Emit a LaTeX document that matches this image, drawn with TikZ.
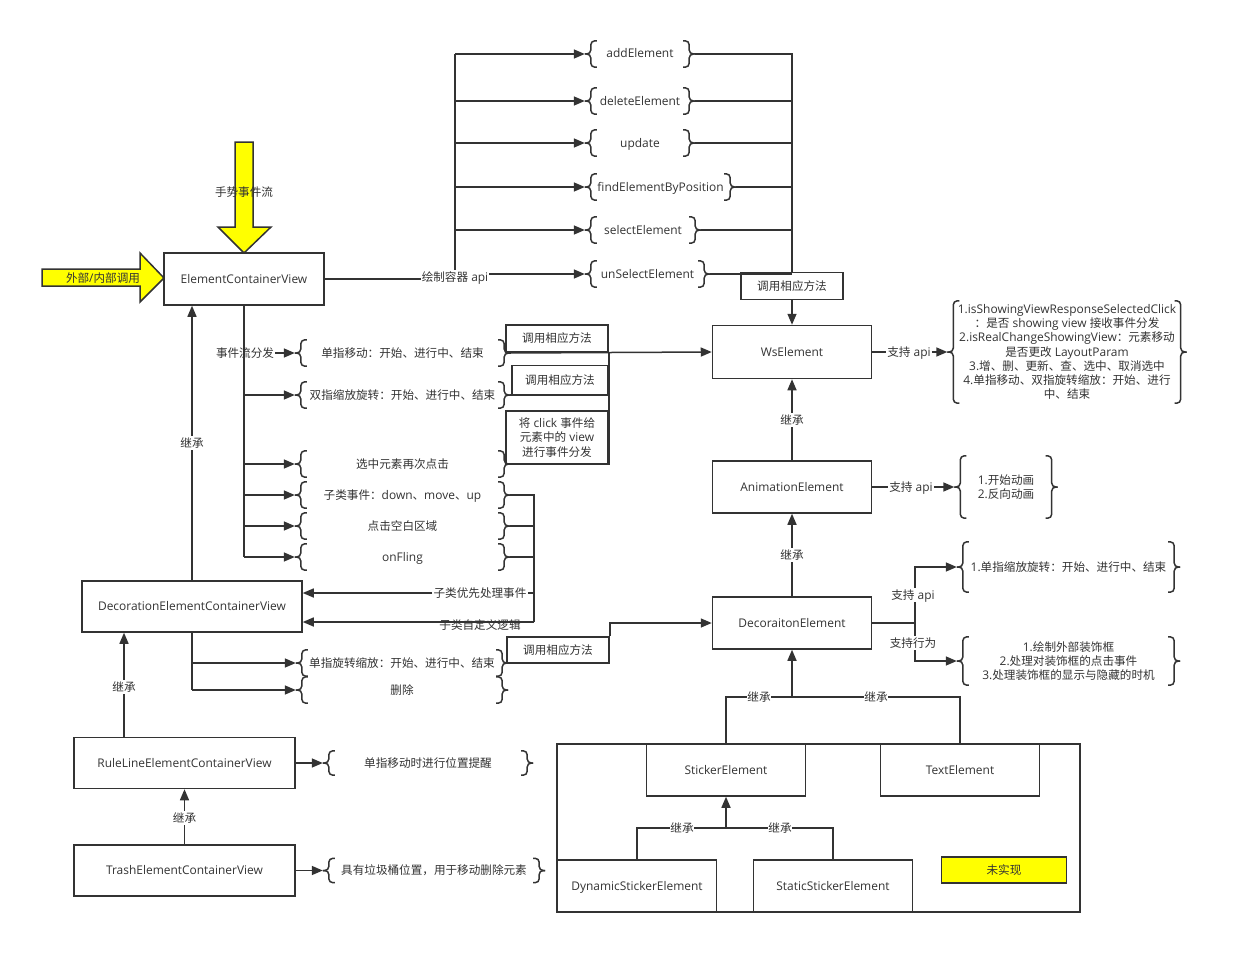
\documentclass[tikz,border=0pt]{standalone}
\usepackage{fontspec}
\setmainfont{Open Sans}[Scale=1.03]
\newfontfamily\cjkfont{Noto Sans CJK SC}
\usetikzlibrary{arrows.meta,calc}
\XeTeXinterchartokenstate=1
\chardef\cjkclass=10
\newcount\cjkc
\cjkc="3000 \loop\ifnum\cjkc<"3040 \XeTeXcharclass\cjkc=\cjkclass \advance\cjkc by 1 \repeat
\cjkc="4E00 \loop\ifnum\cjkc<"A000 \XeTeXcharclass\cjkc=\cjkclass \advance\cjkc by 1 \repeat
\cjkc="FF00 \loop\ifnum\cjkc<"FFF0 \XeTeXcharclass\cjkc=\cjkclass \advance\cjkc by 1 \repeat
\XeTeXinterchartoks 0 \cjkclass = {\cjkfont}
\XeTeXinterchartoks 4095 \cjkclass = {\cjkfont}
\XeTeXinterchartoks \cjkclass 0 = {\rmfamily}
\XeTeXinterchartoks \cjkclass 4095 = {\rmfamily}
\definecolor{lc}{HTML}{333333}
\definecolor{yel}{HTML}{FFFF00}
\newcommand\fsz{\fontsize{11.6pt}{14.3pt}\selectfont}
\tikzset{
  ln/.style={draw=lc, line width=1.5pt},
  arr/.style={ln, -{Triangle[length=11pt,width=9pt]}},
  box/.style={draw=lc, line width=1.5pt, fill=white, text=lc, font=\fsz, inner sep=2pt, align=center, text height=10pt, text depth=2pt},
  lbl/.style={fill=white, text=lc, font=\fsz, inner sep=1pt, text height=10pt, text depth=2pt},
  lblnf/.style={text=lc, font=\fsz, inner sep=1pt, text height=10pt, text depth=2pt},
  bitem/.style={text=lc, font=\fsz, align=center, inner sep=0pt},
  bone/.style={bitem, text height=10pt, text depth=2pt},
  brc/.style={draw=lc, line width=1.5pt, rounded corners=4pt},
  yarrow/.style={draw=lc, line width=1.5pt, fill=yel},
}
\newcommand\bp[1]{%
  \draw[brc] ($(#1.north west)+(12,0)$) -- ($(#1.north west)+(6,0)$) -- ($(#1.west)+(6,0)$) -- (#1.west);
  \draw[brc] ($(#1.south west)+(12,0)$) -- ($(#1.south west)+(6,0)$) -- ($(#1.west)+(6,0)$) -- (#1.west);
  \draw[brc] ($(#1.north east)+(-12,0)$) -- ($(#1.north east)+(-6,0)$) -- ($(#1.east)+(-6,0)$) -- (#1.east);
  \draw[brc] ($(#1.south east)+(-12,0)$) -- ($(#1.south east)+(-6,0)$) -- ($(#1.east)+(-6,0)$) -- (#1.east);}
\begin{document}
\begin{tikzpicture}[x=1pt,y=-1pt]
\useasboundingbox[fill=white] (0,0) rectangle (1240,966);

% yellow arrows
\draw[yarrow] (235,142) -- (253,142) -- (253,227) -- (271,227) -- (244,253) -- (218,227) -- (235,227) -- cycle;
\draw[yarrow] (42,269) -- (140,269) -- (140,253) -- (164,278) -- (140,302) -- (140,286) -- (42,286) -- cycle;
\node[lblnf] (gest) at (244,192) {手势事件流};
\node[lblnf] (ext) at (103,278) {外部/内部调用};

% main boxes
\node[box, minimum width=160pt, minimum height=52pt] (ecv) at (244,279) {ElementContainerView};
\node[box, minimum width=220pt, minimum height=51pt] (decv) at (192,606.5) {DecorationElementContainerView};
\node[box, minimum width=221pt, minimum height=51pt] (rl) at (184.5,763) {RuleLineElementContainerView};
\node[box, minimum width=221pt, minimum height=51pt] (tr) at (184.5,870.5) {TrashElementContainerView};
\node[box, minimum width=159pt, minimum height=53pt] (ws) at (792,352) {WsElement};
\node[box, minimum width=159pt, minimum height=52pt] (anim) at (792,487) {AnimationElement};
\node[box, minimum width=159pt, minimum height=52pt] (dec) at (792,623) {DecoraitonElement};
\node[box, minimum width=102pt, minimum height=27pt] (c0) at (792,286) {调用相应方法};
\node[box, minimum width=102pt, minimum height=27pt] (c1) at (557,338.5) {调用相应方法};
\node[box, minimum width=96pt, minimum height=29pt] (c2) at (560,380) {调用相应方法};
\node[box, text height=, text depth=, minimum width=102pt, minimum height=53pt] (c3) at (557,437.5) {将 click 事件给\\元素中的 view\\进行事件分发};
\node[box, minimum width=102pt, minimum height=26pt] (c4) at (558,650) {调用相应方法};

% bottom group
\node[box, minimum width=523pt, minimum height=168pt] (grp) at (818.5,828) {};
\node[box, minimum width=159pt, minimum height=52pt] (stk) at (726,770) {StickerElement};
\node[box, minimum width=159pt, minimum height=52pt] (txt) at (960,770) {TextElement};
\node[box, minimum width=159pt, minimum height=52pt] (dyn) at (637,886) {DynamicStickerElement};
\node[box, minimum width=159pt, minimum height=52pt] (sta) at (833,886) {StaticStickerElement};
\node[box, fill=yel, minimum width=125pt, minimum height=26pt] (nimp) at (1004,870) {未实现};

% brace items: top
\node[bone, minimum width=110pt, minimum height=26pt] (add) at (640,54) {addElement};
\node[bone, minimum width=110pt, minimum height=26pt] (del) at (640,101) {deleteElement};
\node[bone, minimum width=110pt, minimum height=26pt] (upd) at (640,143) {update};
\node[bone, minimum width=151pt, minimum height=26pt] (fnd) at (660.5,187) {findElementByPosition};
\node[bone, minimum width=116pt, minimum height=26pt] (sel) at (643,230) {selectElement};
\node[bone, minimum width=125pt, minimum height=26pt] (uns) at (647.5,274) {unSelectElement};
\foreach \n in {add,del,upd,fnd,sel,uns} {\bp{\n}}

% brace items: left
\node[bone, minimum width=215pt, minimum height=26pt] (i1) at (402.5,353) {单指移动：开始、进行中、结束};
\node[bone, minimum width=215pt, minimum height=26pt] (i2) at (402.5,395) {双指缩放旋转：开始、进行中、结束};
\node[bone, minimum width=215pt, minimum height=26pt] (i3) at (402.5,464) {选中元素再次点击};
\node[bone, minimum width=215pt, minimum height=26pt] (i4) at (402.5,495) {子类事件：down、move、up};
\node[bone, minimum width=215pt, minimum height=26pt] (i5) at (402.5,526) {点击空白区域};
\node[bone, minimum width=215pt, minimum height=26pt] (i6) at (402.5,557) {onFling};
\node[bone, minimum width=212pt, minimum height=26pt] (i7) at (402,663) {单指旋转缩放：开始、进行中、结束};
\node[bone, minimum width=212pt, minimum height=26pt] (i8) at (402,690) {删除};
\node[bone, minimum width=210pt, minimum height=24pt] (i9) at (428,763) {单指移动时进行位置提醒};
\node[bone, minimum width=222pt, minimum height=24pt] (i10) at (434,870.5) {具有垃圾桶位置，用于移动删除元素};
\foreach \n in {i1,i2,i3,i4,i5,i6,i7,i8,i9,i10} {\bp{\n}}

% brace items: right
\node[bitem, minimum width=239pt, minimum height=102pt] (bigb) at (1067,352) {1.isShowingViewResponseSelectedClick\\：是否 showing view 接收事件分发\\2.isRealChangeShowingView：元素移动\\是否更改 LayoutParam\\3.增、删、更新、查、选中、取消选中\\4.单指移动、双指旋转缩放：开始、进行\\中、结束};
\node[bitem, minimum width=103pt, minimum height=62pt] (ab) at (1006,487) {1.开始动画\\2.反向动画};
\node[bone, minimum width=223pt, minimum height=50pt] (db1) at (1068.5,567) {1.单指缩放旋转：开始、进行中、结束};
\node[bitem, minimum width=223pt, minimum height=48pt] (db2) at (1068.5,661) {1.绘制外部装饰框\\2.处理对装饰框的点击事件\\3.处理装饰框的显示与隐藏的时机};
\foreach \n in {bigb,ab,db1,db2} {\bp{\n}}

% top fan
\node[lblnf] (apilbl) at (455,277) {绘制容器 api};
\draw[ln] (ecv.east) -- (ecv.east -| apilbl.west);
\draw[ln] (apilbl.north) -- (apilbl.north |- add.west);
\foreach \n in {add,del,upd,fnd,sel} {\draw[arr] (apilbl.north |- \n.west) -- (\n.west);}
\draw[arr] (apilbl.east |- uns.west) -- (uns.west);
\draw[ln] (add.east) -- (add.east -| c0.north) -- (c0.north);
\foreach \n in {del,upd,fnd,sel,uns} {\draw[ln] (\n.east) -- (\n.east -| c0.north);}
\draw[arr] (c0.south) -- (ws.north);

% event flow
\draw[ln] (ecv.south) -- (ecv.south |- i6.west);
\node[lblnf] (flow) at (245,353) {事件流分发};
\draw[arr] (flow.east) -- (i1.west);
\foreach \n in {i2,i3,i4,i5,i6} {\draw[arr] (ecv.south |- \n.west) -- (\n.west);}
\draw[arr] (i1.east) -- (ws.west);
\draw[ln] (i2.east) -- (i2.east -| c1.south east) -- (c1.south east);
\draw[ln] (i3.east) -- (i3.east -| c1.south east) -- (c1.south east);
\coordinate (vb) at (534,622);
\draw[ln] (i4.east) -- (i4.east -| vb) -- (vb);
\draw[ln] (i5.east) -- (i5.east -| vb);
\draw[ln] (i6.east) -- (i6.east -| vb);
\node[lblnf] (sub1) at (480,593) {子类优先处理事件};
\draw[ln] (vb |- sub1.east) -- (sub1.east);
\draw[arr] (sub1.west) -- (sub1.west -| decv.east);
\draw[arr] (vb) -- (vb -| decv.east);
\node[lblnf] (sub2) at (480,625) {子类自定义逻辑};

% decoration container
\draw[arr] (decv.north) -- (decv.north |- ecv.south);
\node[lbl] (inh1) at (192,443) {继承};
\draw[ln] (decv.south) -- (decv.south |- i8.west);
\draw[arr] (decv.south |- i7.west) -- (i7.west);
\draw[arr] (decv.south |- i8.west) -- (i8.west);
\draw[ln] (i7.east) -- (i7.east -| c4.west);
\draw[arr] (c4.north east) -- (c4.north east |- dec.west) -- (dec.west);

% ruleline / trash
\coordinate (rlx) at ($(rl.north)+(-60.5,0)$);
\draw[arr] (rlx) -- (rlx |- decv.south);
\node[lbl] (inh2) at (124,687) {继承};
\draw[arr] (tr.north) -- (rl.south);
\node[lbl] (inh3) at (184.5,818) {继承};
\draw[arr] (rl.east) -- (i9.west);
\draw[arr] (tr.east) -- (i10.west);

% right side
\node[lblnf] (wsapi) at (909,352) {支持 api};
\draw[ln] (ws.east) -- (wsapi.west);
\draw[arr] (wsapi.east) -- (bigb.west);
\draw[arr] (anim.north) -- (ws.south);
\node[lbl] (inh4) at (792,420) {继承};
\node[lblnf] (animapi) at (911,487) {支持 api};
\draw[ln] (anim.east) -- (animapi.west);
\draw[arr] (animapi.east) -- (ab.west);
\draw[arr] (dec.north) -- (anim.south);
\node[lbl] (inh5) at (792,555) {继承};
\coordinate (dv) at (915,623);
\draw[ln] (dec.east) -- (dv);
\draw[arr] (dv) -- (dv |- db1.west) -- (db1.west);
\draw[arr] (dv) -- (dv |- db2.west) -- (db2.west);
\node[lbl] (s1) at (913,595) {支持 api};
\node[lbl] (s2) at (913,643) {支持行为};

% bottom inheritance
\coordinate (h1) at (792,697);
\draw[ln] (stk.north) -- (stk.north |- h1) -- (txt.north |- h1) -- (txt.north);
\draw[arr] (h1) -- (dec.south);
\node[lbl, inner sep=0pt] (inh6) at (759,697) {继承};
\node[lbl, inner sep=0pt] (inh7) at (876,697) {继承};
\coordinate (h2) at (726,828);
\draw[ln] (dyn.north) -- (dyn.north |- h2) -- (sta.north |- h2) -- (sta.north);
\draw[arr] (h2) -- (stk.south);
\node[lbl, inner sep=0pt] (inh8) at (682,828) {继承};
\node[lbl, inner sep=0pt] (inh9) at (780,828) {继承};
\end{tikzpicture}
\end{document}
